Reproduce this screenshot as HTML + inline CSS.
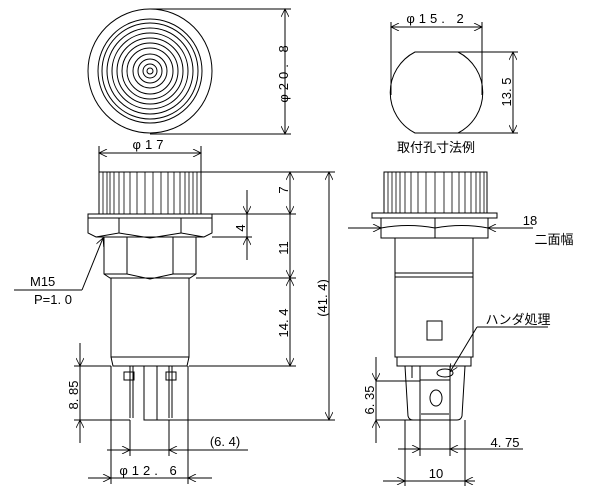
<!DOCTYPE html>
<html><head><meta charset="utf-8"><style>
html,body{margin:0;padding:0;background:#fff;}
svg{display:block;}
text{font-family:"Liberation Sans","Noto Sans CJK JP",sans-serif;font-size:13px;fill:#000;}
</style></head><body>
<svg width="600" height="488" viewBox="0 0 600 488" xmlns="http://www.w3.org/2000/svg">
<defs>
<marker id="a" viewBox="0 0 10 10" refX="10" refY="5" markerWidth="10" markerHeight="8" orient="auto-start-reverse" markerUnits="userSpaceOnUse"><path d="M0,0 L10,5 L0,10" fill="none" stroke="#000" stroke-width="1"/></marker>
</defs>
<g fill="none" stroke="#000" stroke-width="1">
<!-- top view -->
<circle cx="150" cy="71" r="62"/>
<circle cx="150" cy="71" r="52"/>
<circle cx="150" cy="71" r="48"/>
<circle cx="150" cy="71" r="43"/>
<circle cx="150" cy="71" r="38"/>
<circle cx="150" cy="71" r="33"/>
<circle cx="150" cy="71" r="28"/>
<circle cx="150" cy="71" r="23"/>
<circle cx="150" cy="71" r="17"/>
<circle cx="150" cy="71" r="12"/>
<circle cx="150" cy="71" r="7"/>
<circle cx="150" cy="71" r="3"/>
<line x1="150" y1="9" x2="291" y2="9"/>
<line x1="150" y1="134" x2="291" y2="134"/>
<line x1="285" y1="9" x2="285" y2="134" marker-start="url(#a)" marker-end="url(#a)"/>

<!-- front view -->
<line x1="99" y1="146" x2="99" y2="172"/>
<line x1="201" y1="146" x2="201" y2="172"/>
<line x1="99" y1="153" x2="201" y2="153" marker-start="url(#a)" marker-end="url(#a)"/>
<rect x="99" y="172" width="102" height="42"/>
<path d="M103,172V214M107,172V214M110,172V214M114,172V214M119,172V214M124,172V214M130,172V214M137,172V214M145,172V214M153,172V214M161,172V214M168,172V214M174,172V214M180,172V214M185,172V214M189,172V214M193,172V214M197,172V214" stroke-width="0.8"/>
<rect x="88" y="214" width="124" height="4"/>
<path d="M88,218 V233 L96,237 H204 L212,233 V218"/>
<path d="M119,218 V233 L96,237 M119,233 L150,238 L181,233 M181,218 V233 L204,237"/>
<path d="M104,237 V274 L110,278 H190 L196,274 V237"/>
<path d="M127,237 V274 M173,237 V274 M104,274 H127 L150,279 L173,274 H196"/>
<rect x="111" y="278" width="78" height="79"/>
<path d="M111,357 L113,366 H187 L189,357"/>
<line x1="130" y1="366" x2="130" y2="418"/>
<line x1="133" y1="366" x2="133" y2="418"/>
<line x1="169" y1="366" x2="169" y2="418"/>
<line x1="172" y1="366" x2="172" y2="418"/>
<path d="M144,366 V420 H157 V366"/>
<rect x="124" y="372" width="10" height="8"/>
<rect x="166" y="372" width="10" height="8"/>
<!-- front dims -->
<line x1="201" y1="172" x2="335" y2="172"/>
<line x1="212" y1="214" x2="296" y2="214"/>
<line x1="212" y1="237" x2="252" y2="237"/>
<line x1="196" y1="278" x2="296" y2="278"/>
<line x1="189" y1="366" x2="296" y2="366"/>
<line x1="157" y1="420" x2="335" y2="420"/>
<line x1="290" y1="172" x2="290" y2="214" marker-start="url(#a)" marker-end="url(#a)"/>
<line x1="290" y1="214" x2="290" y2="278" marker-end="url(#a)"/>
<line x1="290" y1="278" x2="290" y2="366" marker-start="url(#a)" marker-end="url(#a)"/>
<line x1="247" y1="190" x2="247" y2="214" marker-end="url(#a)"/>
<line x1="247" y1="214" x2="247" y2="237"/>
<line x1="247" y1="260" x2="247" y2="237" marker-end="url(#a)"/>
<line x1="329" y1="172" x2="329" y2="420" marker-start="url(#a)" marker-end="url(#a)"/>
<line x1="74" y1="366" x2="111" y2="366"/>
<line x1="74" y1="420" x2="130" y2="420"/>
<line x1="80" y1="343" x2="80" y2="366" marker-end="url(#a)"/>
<line x1="80" y1="366" x2="80" y2="420"/>
<line x1="80" y1="443" x2="80" y2="420" marker-end="url(#a)"/>
<line x1="130" y1="420" x2="130" y2="456"/>
<line x1="169" y1="420" x2="169" y2="456"/>
<line x1="111" y1="366" x2="111" y2="484"/>
<line x1="188" y1="366" x2="188" y2="484"/>
<line x1="107" y1="450" x2="130" y2="450" marker-end="url(#a)"/>
<line x1="130" y1="450" x2="169" y2="450"/>
<line x1="248" y1="450" x2="169" y2="450" marker-end="url(#a)"/>
<line x1="88" y1="478" x2="111" y2="478" marker-end="url(#a)"/>
<line x1="111" y1="478" x2="188" y2="478"/>
<line x1="212" y1="478" x2="188" y2="478" marker-end="url(#a)"/>
<line x1="14" y1="290" x2="82" y2="290"/>
<line x1="82" y1="290" x2="103" y2="238" marker-end="url(#a)"/>

<!-- mount hole -->
<line x1="391" y1="22" x2="391" y2="95"/>
<line x1="482" y1="22" x2="482" y2="95"/>
<line x1="391" y1="27" x2="482" y2="27" marker-start="url(#a)" marker-end="url(#a)"/>
<path d="M415,52 H458 A45.5,45.5 0 0 1 458,133 H415 A45.5,45.5 0 0 1 415,52 Z"/>
<line x1="458" y1="52" x2="518" y2="52"/>
<line x1="458" y1="133" x2="518" y2="133"/>
<line x1="513" y1="52" x2="513" y2="133" marker-start="url(#a)" marker-end="url(#a)"/>

<!-- right view -->
<rect x="384" y="172" width="103" height="41"/>
<path d="M388,172V213M392,172V213M396,172V213M400,172V213M405,172V213M411,172V213M418,172V213M426,172V213M435,172V213M444,172V213M452,172V213M459,172V213M465,172V213M471,172V213M476,172V213M480,172V213M484,172V213" stroke-width="0.8"/>
<rect x="372" y="213" width="125" height="5"/>
<path d="M381,218 V238 H488 V218"/>
<path d="M381,228 Q408,223 435,228 Q462,223 488,228 M435,218 V238"/>
<rect x="395" y="238" width="78" height="119"/>
<line x1="395" y1="273" x2="473" y2="273"/>
<line x1="395" y1="277" x2="473" y2="277"/>
<rect x="427" y="321" width="15" height="19"/>
<path d="M397,357 V366 H471 V357"/>
<path d="M405,366 L408,416 Q409,420 413,420 H457 Q461,420 462,416 L465,366"/>
<path d="M420,366 V420 M450,366 V420 M412,366 V378"/>
<path d="M420,380 H450 M421,414 H449"/>
<ellipse cx="436" cy="398" rx="6" ry="8"/>
<ellipse cx="445" cy="373" rx="8" ry="4"/>
<line x1="376" y1="381" x2="420" y2="381"/>
<line x1="376" y1="420" x2="420" y2="420"/>
<line x1="376" y1="357" x2="376" y2="381" marker-end="url(#a)"/>
<line x1="376" y1="381" x2="376" y2="420"/>
<line x1="376" y1="443" x2="376" y2="420" marker-end="url(#a)"/>
<line x1="420" y1="420" x2="420" y2="456"/>
<line x1="450" y1="420" x2="450" y2="456"/>
<line x1="405" y1="420" x2="405" y2="486"/>
<line x1="465" y1="420" x2="465" y2="486"/>
<line x1="398" y1="449" x2="420" y2="449" marker-end="url(#a)"/>
<line x1="420" y1="449" x2="450" y2="449"/>
<line x1="523" y1="449" x2="450" y2="449" marker-end="url(#a)"/>
<line x1="383" y1="481" x2="405" y2="481" marker-end="url(#a)"/>
<line x1="405" y1="481" x2="465" y2="481"/>
<line x1="475" y1="481" x2="465" y2="481" marker-end="url(#a)"/>
<line x1="348" y1="228" x2="381" y2="228" marker-end="url(#a)"/>
<line x1="533" y1="228" x2="488" y2="228" marker-end="url(#a)"/>
<line x1="548" y1="327" x2="477" y2="327"/>
<line x1="477" y1="327" x2="450" y2="372" marker-end="url(#a)"/>
</g>
<g>
<text transform="translate(288,72) rotate(-90)" text-anchor="middle" letter-spacing="4">φ20. 8</text>
<text x="150" y="149" text-anchor="middle" letter-spacing="4">φ17</text>
<text transform="translate(288,190) rotate(-90)" text-anchor="middle">7</text>
<text transform="translate(245,228) rotate(-90)" text-anchor="middle">4</text>
<text transform="translate(288,248) rotate(-90)" text-anchor="middle">11</text>
<text transform="translate(288,323) rotate(-90)" text-anchor="middle">14. 4</text>
<text transform="translate(327,298) rotate(-90)" text-anchor="middle">(41. 4)</text>
<text transform="translate(78,395) rotate(-90)" text-anchor="middle">8. 85</text>
<text x="225" y="446" text-anchor="middle">(6. 4)</text>
<text x="150" y="475" text-anchor="middle" letter-spacing="4">φ12. 6</text>
<text x="30" y="286">M15</text>
<text x="34" y="304">P=1. 0</text>
<text x="437" y="23" text-anchor="middle" letter-spacing="4">φ15. 2</text>
<text transform="translate(511,92) rotate(-90)" text-anchor="middle">13. 5</text>
<text x="436" y="152" text-anchor="middle" font-size="12">取付孔寸法例</text>
<text x="530" y="225" text-anchor="middle">18</text>
<text x="554" y="244" text-anchor="middle" font-size="12">二面幅</text>
<text x="518" y="324" text-anchor="middle" font-size="12">ハンダ処理</text>
<text transform="translate(374,400) rotate(-90)" text-anchor="middle">6. 35</text>
<text x="505" y="447" text-anchor="middle">4. 75</text>
<text x="436" y="478" text-anchor="middle">10</text>
</g>
</svg>
</body></html>
